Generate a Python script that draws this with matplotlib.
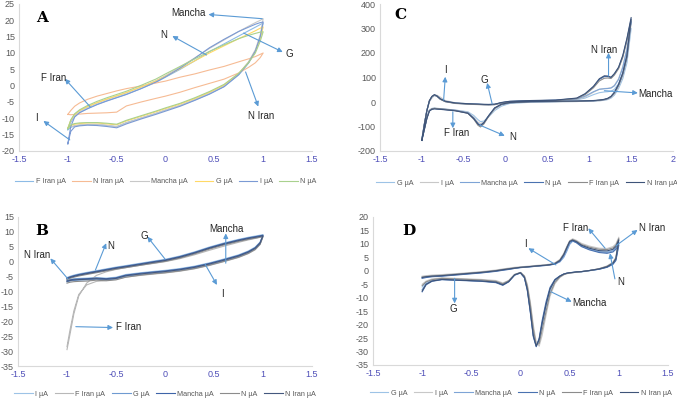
import matplotlib.pyplot as plt
from matplotlib.ticker import FuncFormatter, MultipleLocator

plt.rcParams['font.family'] = ['Liberation Sans', 'DejaVu Sans']

# ---------------- panel A ----------------
EA = [-1.0, -0.97, -0.93, -0.88, -0.8, -0.7, -0.6, -0.5, -0.4, -0.25, -0.1,
      0.0, 0.15, 0.3, 0.45, 0.6, 0.75, 0.85, 0.92, 0.97, 1.0]
A_labels = ['F Iran µA', 'N Iran µA', 'Mancha µA', 'G µA', 'I µA', 'N µA']
A_up = [
    [-13.5, -11.2, -9.4, -8.2, -7.0, -5.7, -4.6, -3.6, -2.6, -0.9, 1.0, 2.6, 5.0, 7.6, 10.4, 12.8, 15.2, 16.8, 17.9, 18.7, 19.2],
    [-8.8, -7.6, -6.3, -5.3, -4.2, -3.2, -2.4, -1.6, -0.9, -0.1, 0.8, 1.4, 2.6, 3.6, 4.8, 5.9, 7.3, 8.2, 8.9, 9.6, 10.0],
    [-13.0, -10.8, -9.0, -7.8, -6.6, -5.3, -4.2, -3.2, -2.2, -0.4, 1.5, 3.1, 5.7, 8.5, 11.4, 14.0, 16.6, 18.2, 19.3, 20.0, 20.5],
    [-13.0, -10.6, -8.8, -7.6, -6.4, -5.2, -4.1, -3.1, -2.1, -0.4, 1.4, 2.9, 5.2, 7.6, 10.0, 12.2, 14.4, 15.8, 16.8, 17.6, 18.0],
    [-17.8, -12.5, -9.6, -8.3, -7.1, -5.8, -4.7, -3.7, -2.7, -0.9, 1.1, 2.7, 5.4, 8.4, 11.6, 14.2, 16.6, 17.9, 18.8, 19.3, 19.5],
    [-13.2, -10.5, -8.6, -7.4, -6.1, -4.8, -3.7, -2.7, -1.7, 0.1, 2.0, 3.6, 5.9, 8.2, 10.5, 12.5, 14.4, 15.4, 16.0, 16.4, 16.5],
]
A_dn = [
    [-13.5, -12.8, -12.3, -12.1, -11.9, -11.9, -12.2, -12.5, -11.3, -9.9, -8.5, -7.5, -6.1, -4.4, -2.5, -0.3, 3.3, 6.9, 10.6, 14.8, 19.2],
    [-8.8, -8.9, -8.8, -8.7, -8.5, -8.4, -8.3, -8.1, -6.2, -5.0, -3.9, -3.2, -2.0, -0.6, 0.7, 2.0, 3.9, 5.6, 7.0, 8.6, 10.0],
    [-13.0, -12.6, -12.2, -12.0, -11.8, -11.8, -12.1, -12.6, -11.4, -9.9, -8.5, -7.4, -6.0, -4.2, -2.2, 0.1, 3.7, 7.3, 11.0, 15.5, 20.5],
    [-13.0, -12.2, -11.8, -11.6, -11.4, -11.4, -11.7, -12.0, -10.8, -9.4, -8.0, -7.0, -5.6, -3.9, -2.0, 0.2, 3.7, 7.1, 10.4, 14.4, 18.0],
    [-17.8, -14.0, -12.6, -12.3, -12.1, -12.2, -12.5, -12.9, -11.7, -10.2, -8.8, -7.8, -6.3, -4.5, -2.6, -0.3, 3.4, 7.0, 10.6, 15.0, 19.5],
    [-13.2, -12.0, -11.6, -11.4, -11.3, -11.3, -11.5, -11.8, -10.6, -9.2, -7.8, -6.8, -5.4, -3.7, -1.8, 0.4, 3.8, 7.0, 10.0, 13.6, 16.5],
]

# ---------------- panel B ----------------
EB = [-1.0, -0.97, -0.93, -0.88, -0.8, -0.7, -0.6, -0.5, -0.4, -0.25, -0.1,
      0.0, 0.15, 0.3, 0.45, 0.6, 0.75, 0.85, 0.92, 0.97, 1.0]
B_labels = ['I µA', 'F Iran µA', 'G µA', 'Mancha µA', 'N µA', 'N Iran µA']
B_up = [
    [-5.3, -4.9, -4.5, -4.1, -3.6, -3.0, -2.4, -1.8, -1.3, -0.5, 0.3, 0.8, 1.9, 3.3, 4.9, 6.3, 7.5, 8.2, 8.6, 8.9, 9.1],
    [-29.5, -24.5, -17.5, -11.5, -7.2, -4.6, -3.4, -2.6, -2.0, -1.2, -0.5, 0.0, 1.0, 2.3, 3.8, 5.2, 6.5, 7.3, 7.8, 8.2, 8.5],
    [-5.8, -5.4, -5.0, -4.6, -4.1, -3.5, -2.9, -2.3, -1.8, -1.0, -0.2, 0.3, 1.4, 2.8, 4.4, 5.8, 7.0, 7.7, 8.1, 8.4, 8.6],
    [-5.5, -5.1, -4.7, -4.3, -3.8, -3.2, -2.6, -2.0, -1.5, -0.7, 0.1, 0.6, 1.7, 3.1, 4.7, 6.1, 7.3, 8.0, 8.4, 8.7, 8.9],
    [-6.0, -5.6, -5.2, -4.8, -4.3, -3.7, -3.1, -2.5, -2.0, -1.2, -0.4, 0.1, 1.2, 2.6, 4.2, 5.6, 6.8, 7.5, 7.9, 8.2, 8.4],
    [-5.7, -5.3, -4.9, -4.5, -4.0, -3.4, -2.8, -2.2, -1.7, -0.9, -0.1, 0.4, 1.5, 2.9, 4.5, 5.9, 7.1, 7.8, 8.2, 8.5, 8.7],
]
B_dn = [
    [-6.2, -5.9, -5.7, -5.6, -5.5, -5.3, -5.5, -5.2, -4.3, -3.7, -3.2, -2.9, -2.3, -1.5, -0.4, 0.9, 2.3, 3.6, 4.9, 6.6, 9.1],
    [-28.5, -23.0, -16.5, -11.0, -7.8, -6.6, -6.3, -5.8, -5.2, -4.6, -4.1, -3.8, -3.2, -2.4, -1.3, 0.0, 1.4, 2.7, 4.0, 5.8, 8.5],
    [-6.8, -6.5, -6.3, -6.2, -6.1, -5.9, -6.1, -5.8, -4.9, -4.3, -3.8, -3.5, -2.9, -2.1, -1.0, 0.3, 1.7, 3.0, 4.3, 6.0, 8.6],
    [-6.4, -6.1, -5.9, -5.8, -5.7, -5.5, -5.7, -5.4, -4.5, -3.9, -3.4, -3.1, -2.5, -1.7, -0.6, 0.7, 2.1, 3.4, 4.7, 6.4, 8.9],
    [-7.2, -6.9, -6.7, -6.6, -6.5, -6.2, -6.4, -6.1, -5.2, -4.5, -4.0, -3.7, -3.1, -2.3, -1.2, 0.1, 1.5, 2.8, 4.1, 5.8, 8.4],
    [-6.6, -6.3, -6.1, -6.0, -5.9, -5.7, -5.9, -5.6, -4.7, -4.1, -3.6, -3.3, -2.7, -1.9, -0.8, 0.5, 1.9, 3.2, 4.5, 6.2, 8.7],
]

# ---------------- panel C ----------------
EC = [-1.0, -0.97, -0.94, -0.91, -0.88, -0.85, -0.82, -0.78, -0.72, -0.6,
      -0.45, -0.38, -0.33, -0.3, -0.26, -0.2, -0.13, -0.05, 0.05, 0.3,
      0.6, 0.85, 0.95, 1.05, 1.12, 1.18, 1.22, 1.26, 1.3, 1.35, 1.4, 1.45, 1.5]
C_labels = ['G µA', 'I µA', 'Mancha µA', 'N µA', 'F Iran µA', 'N Iran µA']
C_up = [
    [-150, -88, -34, 3, 19, 26, 24, 15, 4, -4, -7, -8, -9, -9.5, -10, -10, -9, -5, 0, 3, 5, 9, 16, 30, 38, 41, 42, 44, 52, 75, 120, 200, 300],
    [-152, -90, -36, 0, 16, 27, 28, 20, 6, -3, -7, -8, -9, -9.5, -10, -10.5, -9.5, -4, 1, 4, 6, 10, 20, 40, 52, 55, 56, 58, 68, 95, 145, 220, 320],
    [-155, -90, -35, 4, 21, 28, 24, 12, 2, -5, -8, -9, -9.5, -10, -10.5, -11, -10, -3, 2, 5, 7, 12, 24, 42, 52, 54, 55, 57, 66, 92, 140, 215, 330],
    [-156, -91, -35, 5, 22, 29, 24, 12, 2, -5, -8, -9, -9.5, -10, -10.5, -11, -10, -3, 2, 5, 7, 15, 32, 62, 92, 104, 104, 100, 114, 140, 186, 256, 338],
    [-155, -90, -34, 5, 22, 28, 23, 11, 1, -6, -9, -10, -10.5, -11, -11.5, -12, -11, -4, 1, 4, 6, 14, 30, 58, 86, 97, 98, 96, 110, 136, 182, 250, 335],
    [-157, -92, -36, 5, 23, 30, 25, 13, 3, -4, -7, -8, -8.5, -9, -9.5, -10, -9, -2, 3, 6, 8, 16, 34, 64, 95, 107, 106, 101, 116, 142, 190, 260, 345],
]
C_dn = [
    [-150, -105, -62, -33, -26, -25, -26, -27, -29, -33, -40, -55, -72, -80, -78, -60, -35, -17, -6, -1, 1, 2, 3, 4, 5, 7, 10, 16, 28, 55, 95, 160, 300],
    [-152, -108, -64, -34, -27, -25, -26, -27, -29, -33, -42, -62, -82, -88, -82, -58, -30, -12, -4, 0, 1, 2, 3, 4, 5, 8, 11, 18, 32, 62, 105, 175, 320],
    [-155, -110, -65, -35, -28, -26, -27, -28, -30, -34, -44, -66, -88, -94, -84, -55, -25, -10, -3, 1, 2, 3, 4, 5, 7, 10, 14, 21, 36, 68, 112, 182, 330],
    [-156, -111, -66, -36, -29, -27, -28, -29, -31, -35, -45, -67, -90, -97, -86, -56, -25, -10, -3, 1, 2, 3, 4, 5, 7, 10, 14, 22, 38, 70, 116, 186, 338],
    [-155, -110, -65, -35, -28, -26, -27, -28, -30, -35, -46, -70, -95, -102, -90, -58, -26, -10, -3, 1, 2, 3, 4, 5, 7, 10, 14, 22, 37, 69, 114, 184, 335],
    [-157, -112, -67, -37, -30, -28, -29, -30, -32, -36, -46, -68, -90, -96, -85, -55, -24, -9, -2, 2, 3, 4, 5, 6, 8, 11, 15, 23, 40, 72, 118, 190, 345],
]

# ---------------- panel D ----------------
ED = [-1.0, -0.96, -0.9, -0.8, -0.6, -0.4, -0.25, -0.18, -0.12, -0.06,
      0.0, 0.04, 0.07, 0.1, 0.13, 0.16, 0.19, 0.22, 0.26, 0.3,
      0.35, 0.4, 0.44, 0.47, 0.5, 0.53, 0.57, 0.62, 0.7, 0.8, 0.88, 0.94, 0.97, 1.0]
D_labels = ['G µA', 'I µA', 'Mancha µA', 'N µA', 'F Iran µA', 'N Iran µA']
D_up = [
    [-2.2, -2.0, -1.8, -1.6, -1.1, -0.5, 0.1, 0.5, 0.8, 1.1, 1.3, 1.4, 1.5, 1.6, 1.7, 1.8, 1.9, 2.0, 2.1, 2.3, 2.6, 3.4, 5.2, 7.6, 10.2, 11.2, 10.6, 9.4, 8.2, 7.2, 7.0, 7.6, 8.4, 10.0],
    [-2.0, -1.8, -1.6, -1.4, -0.9, -0.3, 0.3, 0.7, 1.0, 1.3, 1.5, 1.6, 1.7, 1.8, 1.9, 2.0, 2.1, 2.2, 2.3, 2.5, 3.0, 4.2, 6.5, 9.0, 11.2, 11.9, 11.3, 10.2, 9.2, 8.4, 8.3, 9.0, 10.0, 12.5],
    [-2.6, -2.3, -2.1, -1.9, -1.3, -0.7, -0.1, 0.3, 0.6, 0.9, 1.2, 1.3, 1.4, 1.5, 1.6, 1.7, 1.8, 1.9, 2.0, 2.2, 2.5, 3.3, 5.0, 7.2, 9.8, 11.0, 10.5, 9.2, 8.0, 7.0, 6.8, 7.4, 8.4, 10.5],
    [-2.8, -2.5, -2.2, -2.0, -1.4, -0.8, -0.2, 0.2, 0.5, 0.9, 1.2, 1.3, 1.4, 1.5, 1.6, 1.7, 1.8, 1.9, 2.0, 2.2, 2.5, 3.6, 5.8, 8.3, 10.6, 11.2, 10.4, 9.0, 7.8, 6.8, 6.5, 7.0, 8.0, 9.5],
    [-2.3, -2.1, -1.9, -1.7, -1.1, -0.5, 0.1, 0.5, 0.8, 1.1, 1.3, 1.4, 1.5, 1.6, 1.7, 1.8, 1.9, 2.0, 2.1, 2.3, 2.8, 4.0, 6.2, 8.7, 11.0, 11.6, 11.0, 9.8, 8.8, 8.0, 7.9, 8.5, 9.5, 12.0],
    [-2.5, -2.2, -2.0, -1.8, -1.2, -0.6, 0.0, 0.4, 0.7, 1.0, 1.3, 1.4, 1.5, 1.6, 1.7, 1.8, 1.9, 2.0, 2.1, 2.3, 2.7, 3.8, 6.0, 8.5, 10.9, 11.4, 10.8, 9.5, 8.4, 7.5, 7.4, 8.0, 9.0, 11.5],
]
D_dn = [
    [-6.0, -4.4, -3.5, -3.0, -3.3, -3.6, -4.0, -4.9, -3.8, -1.4, -0.7, -2.2, -6.5, -14.0, -23.0, -27.5, -26.0, -20.5, -13.5, -7.5, -3.8, -2.1, -1.3, -1.0, -0.8, -0.7, -0.5, -0.4, 0.0, 0.6, 1.4, 2.6, 4.2, 10.0],
    [-5.0, -3.8, -3.0, -2.6, -2.9, -3.2, -3.6, -4.5, -3.6, -1.3, -0.6, -1.8, -5.0, -11.5, -20.0, -26.5, -28.0, -24.0, -16.5, -9.5, -4.8, -2.5, -1.5, -1.1, -0.9, -0.7, -0.5, -0.3, 0.1, 0.8, 1.8, 3.2, 5.0, 12.5],
    [-7.0, -4.8, -3.7, -3.2, -3.5, -3.8, -4.3, -5.2, -4.0, -1.6, -0.8, -2.6, -7.0, -15.0, -24.0, -28.0, -25.5, -19.5, -12.5, -6.8, -3.4, -2.0, -1.2, -0.9, -0.7, -0.6, -0.4, -0.3, 0.1, 0.6, 1.4, 2.6, 4.2, 10.5],
    [-7.8, -5.2, -3.9, -3.3, -3.6, -3.9, -4.4, -5.4, -4.1, -1.6, -0.8, -2.6, -7.5, -15.5, -24.5, -28.2, -25.0, -18.5, -11.5, -6.2, -3.2, -1.9, -1.2, -0.9, -0.7, -0.6, -0.4, -0.3, 0.1, 0.6, 1.3, 2.4, 3.8, 9.5],
    [-5.5, -4.1, -3.3, -2.8, -3.1, -3.4, -3.9, -4.8, -3.7, -1.4, -0.6, -2.0, -5.8, -12.5, -21.5, -27.5, -27.0, -22.0, -15.0, -8.5, -4.3, -2.3, -1.4, -1.0, -0.8, -0.7, -0.5, -0.3, 0.1, 0.8, 1.7, 3.0, 4.8, 12.0],
    [-7.5, -5.0, -3.8, -3.2, -3.5, -3.8, -4.2, -5.2, -4.0, -1.5, -0.7, -2.4, -7.0, -15.0, -24.0, -28.0, -25.5, -19.5, -12.5, -6.8, -3.4, -2.0, -1.2, -0.9, -0.7, -0.6, -0.4, -0.3, 0.1, 0.7, 1.5, 2.8, 4.5, 11.5],
]

# colours
A_colors = ['#8dbbe6', '#f6bb94', '#c8c8c8', '#ffd966', '#7b9ad4', '#a9d18e']
B_colors = ['#9dc3e6', '#b8b8b8', '#6f9bd1', '#3e64a8', '#8c8c8c', '#44587e']
C_colors = ['#9dc3e6', '#c8c8c8', '#7ea4d6', '#4a72b0', '#8c8c8c', '#3e5479']
D_colors = C_colors

ARROW = '#5b9bd5'


def draw(rect, E, ups, dns, labels, colors, xlim, ylim, ystep, letter, letter_xy,
         notes, leg_y):
    ax = fig.add_axes(rect)
    for up, dn, lab, c in zip(ups, dns, labels, colors):
        ax.plot(E + E[::-1], up + dn[::-1], color=c, lw=0.8, label=lab)
    ax.set_xlim(*xlim)
    ax.set_ylim(*ylim)
    ax.xaxis.set_major_locator(MultipleLocator(0.5))
    ax.yaxis.set_major_locator(MultipleLocator(ystep))
    ax.xaxis.set_major_formatter(FuncFormatter(lambda v, p: '%g' % v))
    ax.yaxis.set_major_formatter(FuncFormatter(lambda v, p: '%g' % v))
    ax.tick_params(length=0, labelsize=6.5, pad=3)
    ax.tick_params(axis='x', colors='#4f4fb8')
    ax.tick_params(axis='y', colors='#595959')
    for s in ['top', 'right']:
        ax.spines[s].set_visible(False)
    for s in ['left', 'bottom']:
        ax.spines[s].set_color('#d9d9d9')
        ax.spines[s].set_linewidth(0.8)
    ax.text(letter_xy[0], letter_xy[1], letter, transform=ax.transAxes,
            family='DejaVu Serif', fontweight='bold', fontsize=11,
            ha='left', va='top')
    for txt, txy, tail, head in notes:
        ax.annotate('', xy=head, xytext=tail,
                    arrowprops=dict(arrowstyle='-|>', color=ARROW, lw=0.8,
                                    mutation_scale=7, shrinkA=0, shrinkB=0))
        ax.text(txy[0], txy[1], txt, fontsize=7, color='#262626',
                ha='center', va='center')
    leg = ax.legend(loc='center', bbox_to_anchor=(0.5, leg_y), ncol=6,
                    frameon=False, fontsize=5.2, handlelength=2.6,
                    handletextpad=0.3, columnspacing=0.9, labelcolor='#595959',
                    borderpad=0, borderaxespad=0)
    for h in leg.get_lines():
        h.set_linewidth(0.8)
    return ax


fig = plt.figure(figsize=(6.77, 3.99), dpi=100)
W, H = 677.0, 399.0

A_notes = [
    ('Mancha', (0.23, 22.2), (0.99, 20.5), (0.44, 21.8)),
    ('N', (-0.02, 15.5), (0.42, 9.4), (0.07, 15.2)),
    ('G', (1.27, 9.7), (0.80, 16.1), (1.20, 10.3)),
    ('N Iran', (0.98, -9.3), (0.82, 4.2), (0.95, -6.4)),
    ('F Iran', (-1.15, 2.4), (-0.77, -6.5), (-1.03, 2.1)),
    ('I', (-1.32, -9.9), (-0.98, -16.6), (-1.25, -10.8)),
]
C_notes = [
    ('I', (-0.72, 131), (-0.74, 8), (-0.72, 103)),
    ('G', (-0.25, 90), (-0.16, -8), (-0.22, 78)),
    ('N Iran', (1.18, 212), (1.23, 106), (1.23, 201)),
    ('Mancha', (1.79, 33), (1.18, 46), (1.58, 37)),
    ('F Iran', (-0.58, -125), (-0.63, -40), (-0.63, -107)),
    ('N', (0.08, -142), (-0.31, -94), (-0.01, -138)),
]
B_notes = [
    ('Mancha', (0.63, 10.9), (0.62, -0.5), (0.62, 9.5)),
    ('G', (-0.21, 8.7), (0.0, 0.9), (-0.18, 8.4)),
    ('N', (-0.55, 5.4), (-0.71, -2.8), (-0.60, 6.2)),
    ('N Iran', (-1.30, 2.2), (-0.99, -5.8), (-1.17, 1.1)),
    ('I', (0.59, -10.8), (0.41, -0.9), (0.53, -7.8)),
    ('F Iran', (-0.37, -21.9), (-0.91, -21.8), (-0.53, -22.1)),
]
D_notes = [
    ('F Iran', (0.56, 16.0), (0.86, 8.4), (0.69, 15.8)),
    ('N Iran', (1.34, 16.0), (0.97, 9.3), (1.19, 15.2)),
    ('I', (0.05, 9.8), (0.36, 2.2), (0.08, 8.4)),
    ('N', (1.02, -4.3), (0.96, -3.0), (0.91, 6.5)),
    ('Mancha', (0.70, -12.1), (0.31, -7.8), (0.52, -11.5)),
    ('G', (-0.68, -14.3), (-0.67, -2.8), (-0.67, -12.1)),
]

draw([19 / W, 1 - 151 / H, 293 / W, 147 / H], EA, A_up, A_dn, A_labels, A_colors,
     (-1.5, 1.5), (-20, 25), 5, 'A', (0.06, 0.95), A_notes, -0.21)
draw([380 / W, 1 - 151 / H, 293 / W, 147 / H], EC, C_up, C_dn, C_labels, C_colors,
     (-1.5, 2), (-200, 400), 100, 'C', (0.05, 0.97), C_notes, -0.22)
draw([18 / W, 1 - 366 / H, 294 / W, 149 / H], EB, B_up, B_dn, B_labels, B_colors,
     (-1.5, 1.5), (-35, 15), 5, 'B', (0.06, 0.95), B_notes, -0.19)
draw([373 / W, 1 - 365 / H, 295 / W, 148 / H], ED, D_up, D_dn, D_labels, D_colors,
     (-1.5, 1.5), (-35, 20), 5, 'D', (0.10, 0.95), D_notes, -0.19)

fig.savefig('out.png', dpi=100)
